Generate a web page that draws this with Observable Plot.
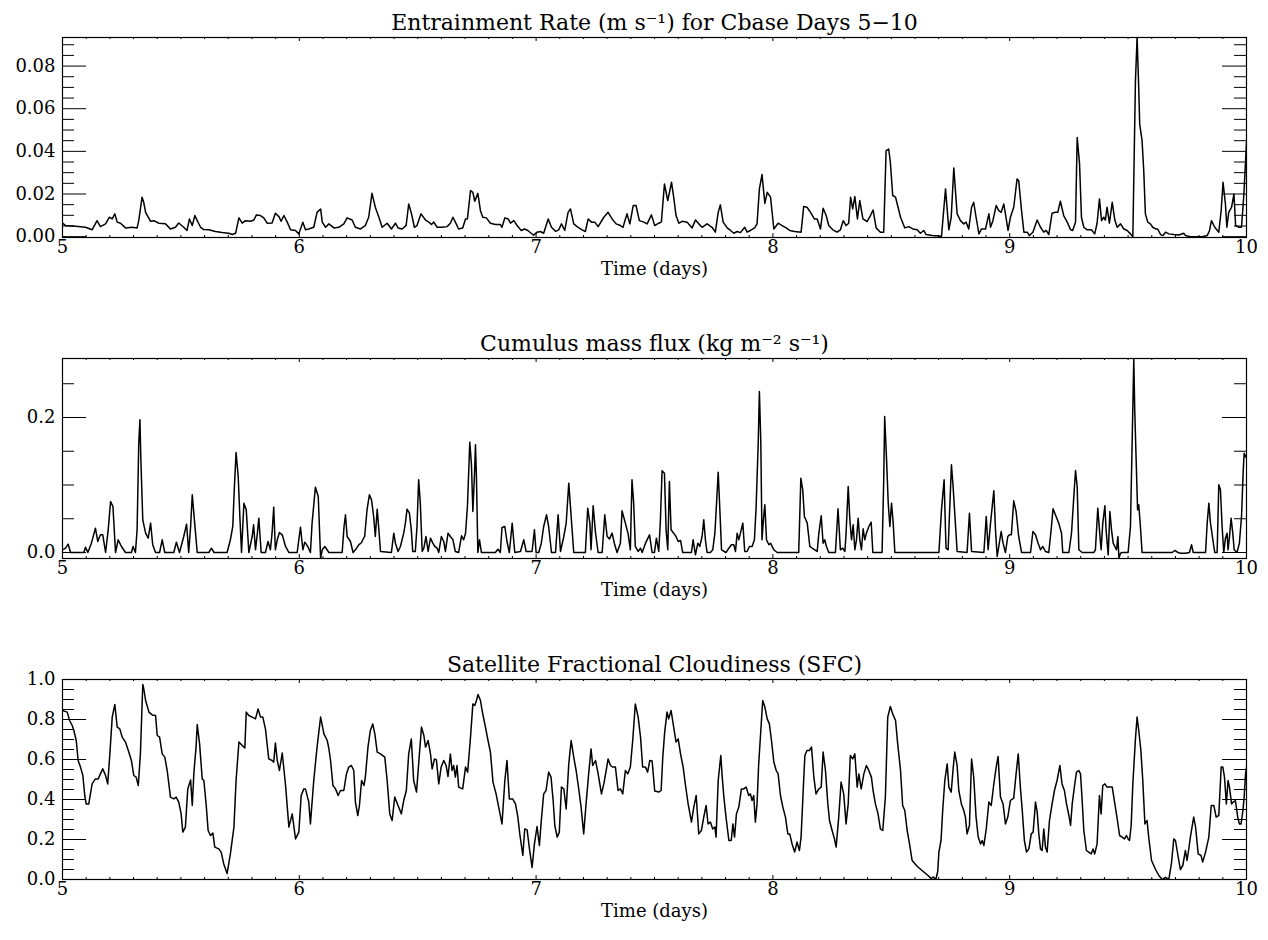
<!DOCTYPE html>
<html>
<head>
<meta charset="utf-8">
<script src="https://cdn.jsdelivr.net/npm/d3@7"></script>
<script src="https://cdn.jsdelivr.net/npm/@observablehq/plot@0.6"></script>
<style>
html, body { margin: 0; padding: 0; background: #fff; }
#chart { width: 1268px; }
#chart svg { display: block; }
</style>
</head>
<body>
<div id="chart"></div>
<script>
// ---- Data: [time (days), value] ----
const entrainment = [[5.000,0.0064],[5.013,0.0052],[5.055,0.0049],[5.097,0.0044],[5.125,0.0032],[5.146,0.0075],[5.160,0.0047],[5.182,0.0060],[5.198,0.0091],[5.210,0.0083],[5.221,0.0107],[5.231,0.0068],[5.245,0.0063],[5.266,0.0041],[5.294,0.0044],[5.315,0.0041],[5.322,0.0075],[5.336,0.0185],[5.343,0.0161],[5.351,0.0114],[5.372,0.0072],[5.386,0.0075],[5.407,0.0063],[5.435,0.0060],[5.456,0.0036],[5.477,0.0044],[5.491,0.0064],[5.512,0.0044],[5.526,0.0029],[5.536,0.0083],[5.548,0.0052],[5.559,0.0099],[5.569,0.0075],[5.583,0.0044],[5.597,0.0033],[5.618,0.0032],[5.646,0.0024],[5.674,0.0019],[5.702,0.0016],[5.717,0.0010],[5.731,0.0016],[5.745,0.0088],[5.759,0.0063],[5.773,0.0075],[5.794,0.0072],[5.808,0.0078],[5.819,0.0102],[5.836,0.0099],[5.850,0.0088],[5.864,0.0063],[5.885,0.0064],[5.899,0.0110],[5.914,0.0094],[5.923,0.0072],[5.935,0.0099],[5.949,0.0068],[5.963,0.0032],[5.984,0.0029],[5.998,0.0013],[6.015,0.0068],[6.026,0.0032],[6.040,0.0036],[6.061,0.0044],[6.075,0.0114],[6.090,0.0130],[6.097,0.0068],[6.111,0.0044],[6.125,0.0060],[6.146,0.0041],[6.167,0.0044],[6.188,0.0060],[6.202,0.0088],[6.223,0.0078],[6.237,0.0044],[6.258,0.0036],[6.279,0.0052],[6.293,0.0091],[6.307,0.0203],[6.321,0.0138],[6.336,0.0091],[6.350,0.0044],[6.371,0.0063],[6.389,0.0036],[6.406,0.0063],[6.417,0.0041],[6.434,0.0036],[6.451,0.0052],[6.462,0.0153],[6.474,0.0107],[6.486,0.0044],[6.497,0.0052],[6.514,0.0107],[6.533,0.0078],[6.547,0.0068],[6.558,0.0057],[6.568,0.0068],[6.582,0.0044],[6.603,0.0044],[6.624,0.0047],[6.638,0.0063],[6.649,0.0091],[6.659,0.0068],[6.673,0.0036],[6.690,0.0041],[6.702,0.0083],[6.710,0.0083],[6.723,0.0216],[6.733,0.0208],[6.741,0.0166],[6.754,0.0203],[6.765,0.0122],[6.775,0.0091],[6.790,0.0088],[6.807,0.0063],[6.828,0.0057],[6.849,0.0057],[6.856,0.0044],[6.868,0.0088],[6.882,0.0083],[6.892,0.0063],[6.906,0.0075],[6.920,0.0052],[6.937,0.0029],[6.951,0.0036],[6.965,0.0029],[6.979,0.0016],[6.990,0.0007],[7.004,0.0021],[7.018,0.0024],[7.032,0.0016],[7.051,0.0083],[7.065,0.0044],[7.082,0.0025],[7.096,0.0032],[7.107,0.0060],[7.121,0.0029],[7.135,0.0114],[7.145,0.0130],[7.159,0.0060],[7.173,0.0047],[7.194,0.0032],[7.208,0.0024],[7.220,0.0083],[7.234,0.0068],[7.248,0.0068],[7.262,0.0047],[7.286,0.0091],[7.304,0.0114],[7.321,0.0083],[7.338,0.0060],[7.356,0.0052],[7.367,0.0044],[7.384,0.0107],[7.396,0.0060],[7.410,0.0146],[7.422,0.0146],[7.436,0.0075],[7.455,0.0068],[7.469,0.0060],[7.487,0.0102],[7.501,0.0052],[7.518,0.0063],[7.529,0.0068],[7.542,0.0247],[7.556,0.0169],[7.572,0.0255],[7.581,0.0185],[7.591,0.0099],[7.603,0.0063],[7.617,0.0072],[7.638,0.0068],[7.659,0.0041],[7.673,0.0078],[7.687,0.0060],[7.701,0.0044],[7.722,0.0060],[7.743,0.0044],[7.757,0.0021],[7.769,0.0114],[7.778,0.0149],[7.790,0.0068],[7.807,0.0041],[7.821,0.0029],[7.835,0.0016],[7.849,0.0024],[7.863,0.0019],[7.881,0.0044],[7.891,0.0021],[7.905,0.0029],[7.923,0.0041],[7.933,0.0060],[7.943,0.0224],[7.954,0.0291],[7.966,0.0156],[7.976,0.0208],[7.990,0.0185],[8.004,0.0036],[8.022,0.0063],[8.039,0.0052],[8.056,0.0041],[8.071,0.0029],[8.092,0.0024],[8.119,0.0021],[8.130,0.0141],[8.144,0.0138],[8.159,0.0114],[8.175,0.0083],[8.187,0.0083],[8.201,0.0036],[8.212,0.0133],[8.225,0.0099],[8.236,0.0052],[8.253,0.0032],[8.271,0.0021],[8.285,0.0032],[8.297,0.0075],[8.309,0.0052],[8.320,0.0063],[8.328,0.0185],[8.337,0.0130],[8.346,0.0188],[8.357,0.0083],[8.367,0.0169],[8.380,0.0083],[8.398,0.0071],[8.412,0.0099],[8.423,0.0125],[8.436,0.0041],[8.454,0.0021],[8.468,0.0021],[8.478,0.0403],[8.489,0.0411],[8.496,0.0349],[8.506,0.0193],[8.518,0.0185],[8.539,0.0091],[8.557,0.0041],[8.574,0.0047],[8.591,0.0036],[8.609,0.0032],[8.623,0.0016],[8.637,0.0029],[8.647,0.0010],[8.673,0.0005],[8.712,0.0002],[8.729,0.0224],[8.743,0.0032],[8.753,0.0091],[8.764,0.0322],[8.778,0.0107],[8.792,0.0075],[8.806,0.0060],[8.816,0.0068],[8.827,0.0036],[8.839,0.0138],[8.848,0.0161],[8.858,0.0091],[8.870,0.0013],[8.881,0.0036],[8.898,0.0036],[8.912,0.0107],[8.919,0.0044],[8.929,0.0075],[8.943,0.0146],[8.954,0.0122],[8.964,0.0114],[8.975,0.0153],[8.982,0.0107],[8.993,0.0029],[9.003,0.0091],[9.017,0.0138],[9.031,0.0270],[9.038,0.0263],[9.050,0.0122],[9.060,0.0021],[9.074,0.0021],[9.083,0.0005],[9.098,0.0021],[9.116,0.0078],[9.130,0.0044],[9.144,0.0021],[9.154,0.0029],[9.165,0.0010],[9.179,0.0110],[9.193,0.0114],[9.203,0.0114],[9.214,0.0166],[9.228,0.0099],[9.243,0.0068],[9.257,0.0032],[9.266,0.0029],[9.278,0.0068],[9.285,0.0465],[9.295,0.0341],[9.303,0.0091],[9.313,0.0044],[9.327,0.0032],[9.345,0.0032],[9.359,0.0013],[9.369,0.0063],[9.379,0.0177],[9.388,0.0075],[9.397,0.0091],[9.404,0.0078],[9.411,0.0138],[9.421,0.0063],[9.433,0.0161],[9.444,0.0078],[9.454,0.0044],[9.468,0.0060],[9.482,0.0036],[9.496,0.0029],[9.510,0.0013],[9.520,0.0000],[9.531,0.0730],[9.538,0.0934],[9.544,0.0730],[9.549,0.0528],[9.559,0.0450],[9.566,0.0310],[9.573,0.0107],[9.583,0.0068],[9.594,0.0060],[9.604,0.0044],[9.616,0.0036],[9.625,0.0036],[9.637,0.0010],[9.647,0.0005],[9.658,0.0021],[9.672,0.0013],[9.693,0.0010],[9.714,0.0008],[9.735,0.0016],[9.742,0.0005],[9.763,0.0000],[9.784,0.0000],[9.813,0.0000],[9.834,0.0005],[9.844,0.0029],[9.852,0.0075],[9.866,0.0044],[9.883,0.0021],[9.893,0.0122],[9.901,0.0255],[9.911,0.0153],[9.917,0.0044],[9.925,0.0114],[9.937,0.0138],[9.947,0.0200],[9.954,0.0052],[9.968,0.0044],[9.979,0.0044],[9.989,0.0200],[10.000,0.0442]];

const massFlux = [[5.000,0.0040],[5.013,0.0064],[5.024,0.0123],[5.034,0],[5.090,0],[5.097,0.0079],[5.107,0],[5.122,0.0138],[5.139,0.0360],[5.149,0.0163],[5.160,0.0262],[5.170,0.0262],[5.182,0],[5.193,0.0336],[5.203,0.0756],[5.213,0.0681],[5.224,0],[5.235,0.0188],[5.249,0.0089],[5.266,0],[5.291,0],[5.298,0.0089],[5.308,0],[5.315,0.0336],[5.322,0.1620],[5.327,0.1965],[5.331,0.1370],[5.339,0.0484],[5.351,0.0286],[5.362,0.0212],[5.372,0.0435],[5.381,0.0114],[5.393,0],[5.410,0],[5.421,0.0188],[5.432,0],[5.470,0],[5.481,0.0153],[5.494,0],[5.512,0.0237],[5.524,0.0420],[5.533,0],[5.541,0.0385],[5.548,0.0854],[5.557,0.0484],[5.569,0],[5.618,0],[5.629,0.0064],[5.640,0],[5.695,0],[5.709,0.0188],[5.719,0.0385],[5.726,0.0978],[5.733,0.1480],[5.742,0.1126],[5.749,0.0533],[5.756,0],[5.766,0.0731],[5.776,0.0632],[5.787,0],[5.801,0.0237],[5.807,0.0410],[5.815,0.0040],[5.823,0.0286],[5.829,0.0509],[5.839,0],[5.857,0],[5.868,0.0163],[5.878,0.0040],[5.885,0.0286],[5.892,0.0672],[5.899,0.0040],[5.907,0.0188],[5.916,0.0296],[5.928,0.0262],[5.942,0.0089],[5.956,0],[5.991,0],[6.005,0.0375],[6.015,0.0040],[6.023,0.0153],[6.036,0.0089],[6.047,0],[6.054,0.0435],[6.068,0.0968],[6.080,0.0830],[6.090,-0.0084],[6.097,0.0040],[6.108,0.0089],[6.125,0],[6.181,0],[6.189,0.0385],[6.195,0.0558],[6.202,0.0237],[6.216,0.0163],[6.227,0],[6.242,0.0064],[6.251,0.0114],[6.263,0.0148],[6.268,0.0188],[6.276,0.0237],[6.286,0.0632],[6.296,0.0854],[6.305,0.0780],[6.314,0.0533],[6.321,0.0237],[6.329,0.0642],[6.336,0.0336],[6.343,0.0015],[6.389,0],[6.399,0.0286],[6.406,0.0138],[6.417,0.0015],[6.427,0.0089],[6.441,0.0286],[6.448,0.0435],[6.455,0.0642],[6.465,0.0583],[6.473,0.0336],[6.479,0.0015],[6.490,0.0015],[6.497,0.0385],[6.504,0.1077],[6.511,0.0731],[6.519,0.0015],[6.526,0.0064],[6.535,0.0237],[6.544,0.0015],[6.554,0.0212],[6.564,0.0138],[6.572,0.0089],[6.582,0.0064],[6.589,0],[6.600,0.0237],[6.610,0.0163],[6.617,0.0015],[6.628,0.0286],[6.638,0.0237],[6.648,0.0198],[6.659,0.0015],[6.673,0],[6.685,0.0247],[6.694,0.0188],[6.702,0.0286],[6.710,0.0681],[6.720,0.1635],[6.727,0.1299],[6.733,0.0607],[6.740,0.1175],[6.744,0.1595],[6.748,0.1126],[6.754,0],[6.761,0.0188],[6.769,0],[6.828,0],[6.839,0.0049],[6.849,0],[6.856,0.0370],[6.868,0.0385],[6.877,0.0163],[6.887,0],[6.899,0.0435],[6.910,0],[6.934,0.0015],[6.948,0.0188],[6.958,0.0015],[6.983,0.0015],[6.993,0.0336],[7.000,0],[7.011,0],[7.022,0.0138],[7.032,0.0385],[7.044,0.0558],[7.053,0.0385],[7.065,0],[7.082,0],[7.093,0.0558],[7.103,0.0015],[7.117,0.0237],[7.127,0.0435],[7.138,0.1027],[7.148,0.0533],[7.159,0],[7.208,0],[7.218,0.0657],[7.227,0.0435],[7.232,0.0040],[7.241,0.0691],[7.251,0.0286],[7.262,0],[7.279,0],[7.290,0.0558],[7.300,0.0237],[7.310,0.0202],[7.321,0.0286],[7.332,0.0114],[7.342,0],[7.356,0.0138],[7.363,0.0617],[7.377,0.0435],[7.388,0.0286],[7.398,0.0040],[7.405,0.1077],[7.412,0.0731],[7.419,0.0089],[7.431,0.0015],[7.441,0.0064],[7.448,0],[7.462,0.0138],[7.479,0.0262],[7.490,0],[7.500,0],[7.508,0.0212],[7.518,0.0015],[7.525,0.0484],[7.532,0.1210],[7.542,0.1175],[7.549,0.0336],[7.556,0.0040],[7.563,0.1052],[7.570,0.0336],[7.581,0.0286],[7.591,0.0237],[7.600,0.0163],[7.610,0.0178],[7.619,0],[7.656,0],[7.663,0.0188],[7.673,-0.0035],[7.683,0.0138],[7.691,0.0089],[7.701,0.0237],[7.708,0.0484],[7.715,0.0188],[7.722,0],[7.736,0],[7.746,0.0040],[7.755,0.0286],[7.762,0.0731],[7.769,0.1190],[7.776,0.0632],[7.783,0.0040],[7.802,0],[7.814,0.0064],[7.825,0.0114],[7.835,0.0114],[7.842,0.0015],[7.849,0.0286],[7.856,0.0188],[7.863,0.0286],[7.873,0.0435],[7.881,0.0015],[7.891,0.0015],[7.901,0.0089],[7.912,0.0089],[7.922,0.0188],[7.929,0.0657],[7.938,0.1620],[7.943,0.2385],[7.949,0.1620],[7.954,0.0188],[7.961,0.0533],[7.966,0.0706],[7.973,0.0188],[7.983,0.0114],[7.990,0.0138],[8.004,0.0040],[8.018,0],[8.109,0],[8.118,0.1101],[8.126,0.0928],[8.133,0.0533],[8.145,0.0435],[8.156,0.0089],[8.166,0.0064],[8.177,0.0040],[8.187,0.0015],[8.194,0.0286],[8.204,0.0543],[8.212,0.0138],[8.219,0.0188],[8.226,0.0089],[8.236,0],[8.264,0],[8.275,0.0647],[8.285,0.0040],[8.295,0.0064],[8.304,0.0015],[8.309,0.0286],[8.318,0.0978],[8.325,0.0484],[8.332,0.0188],[8.339,0.0410],[8.346,0.0040],[8.353,0.0188],[8.360,0.0509],[8.367,0.0188],[8.374,0.0040],[8.381,0.0351],[8.388,0.0188],[8.395,0.0286],[8.405,0.0385],[8.415,0.0449],[8.422,0],[8.461,0],[8.468,0.1077],[8.472,0.2015],[8.480,0.1373],[8.487,0.0731],[8.494,0.0385],[8.501,0.0731],[8.508,0.0435],[8.515,0],[8.701,0],[8.712,0.0632],[8.723,0.1077],[8.731,0.0064],[8.740,0.0040],[8.747,0.0681],[8.754,0.1299],[8.761,0.0978],[8.771,0.0410],[8.778,0.0015],[8.820,0],[8.830,0.0583],[8.839,0.0015],[8.891,0],[8.901,0.0533],[8.909,0.0040],[8.919,0.0435],[8.933,0.0914],[8.940,0.0336],[8.947,-0.0059],[8.954,0.0089],[8.964,0.0311],[8.972,0.0138],[8.982,0],[8.992,0.0237],[8.999,0.0262],[9.007,0.0262],[9.017,0.0765],[9.027,0.0607],[9.038,0.0237],[9.050,0],[9.088,0],[9.098,0.0311],[9.109,0.0262],[9.120,0.0138],[9.130,0.0040],[9.140,0.0089],[9.151,0.0015],[9.165,0],[9.175,0.0336],[9.183,0.0647],[9.193,0.0558],[9.207,0.0435],[9.219,0.0286],[9.224,0],[9.250,0],[9.261,0.0286],[9.269,0.0731],[9.278,0.1215],[9.285,0.0978],[9.292,0.0040],[9.306,0],[9.355,0],[9.362,0.0040],[9.372,0.0657],[9.379,0.0336],[9.386,0.0040],[9.393,0.0435],[9.402,0.0691],[9.407,0.0336],[9.416,-0.0035],[9.423,0.0607],[9.430,0.0336],[9.437,0.0138],[9.444,0.0089],[9.451,0.0040],[9.457,0.0237],[9.461,-0.0084],[9.468,-0.0010],[9.475,0],[9.500,0],[9.510,0.0385],[9.517,0.1620],[9.524,0.2874],[9.528,0.2110],[9.534,0.1370],[9.540,0.0632],[9.545,0.0706],[9.552,0.0385],[9.559,0],[9.686,0],[9.697,0.0030],[9.711,0],[9.721,-0.0010],[9.742,-0.0010],[9.759,0],[9.768,0.0114],[9.775,0],[9.827,0],[9.834,0.0435],[9.841,0.0731],[9.848,0.0435],[9.858,0.0188],[9.866,0],[9.876,0],[9.883,0.1002],[9.890,0.0928],[9.897,0.0385],[9.904,0],[9.911,0.0212],[9.918,0.0286],[9.922,0.0040],[9.929,0.0262],[9.935,0.0509],[9.942,0.0286],[9.948,0.0040],[9.960,0],[9.970,0.0138],[9.979,0.0533],[9.986,0.1200],[9.990,0.1470],[10.000,0.1400]];

const cloudiness = [[5.000,0.845],[5.020,0.837],[5.030,0.795],[5.041,0.770],[5.048,0.745],[5.058,0.695],[5.066,0.595],[5.076,0.562],[5.086,0.520],[5.094,0.420],[5.100,0.378],[5.111,0.378],[5.125,0.478],[5.139,0.503],[5.151,0.503],[5.160,0.528],[5.170,0.553],[5.182,0.520],[5.191,0.478],[5.200,0.628],[5.210,0.812],[5.221,0.875],[5.231,0.762],[5.242,0.753],[5.252,0.712],[5.266,0.687],[5.280,0.637],[5.291,0.595],[5.301,0.520],[5.311,0.512],[5.320,0.470],[5.329,0.628],[5.339,0.975],[5.343,0.955],[5.351,0.895],[5.365,0.837],[5.379,0.823],[5.393,0.820],[5.400,0.720],[5.410,0.712],[5.421,0.628],[5.432,0.612],[5.442,0.545],[5.456,0.412],[5.470,0.403],[5.480,0.412],[5.491,0.387],[5.501,0.328],[5.508,0.237],[5.519,0.262],[5.529,0.453],[5.541,0.498],[5.548,0.370],[5.555,0.537],[5.564,0.662],[5.569,0.775],[5.579,0.678],[5.590,0.503],[5.597,0.495],[5.607,0.370],[5.615,0.245],[5.625,0.220],[5.635,0.232],[5.643,0.162],[5.660,0.153],[5.670,0.137],[5.681,0.078],[5.695,0.030],[5.709,0.128],[5.724,0.262],[5.733,0.495],[5.745,0.687],[5.759,0.670],[5.770,0.658],[5.776,0.837],[5.787,0.820],[5.801,0.812],[5.815,0.803],[5.826,0.853],[5.836,0.812],[5.846,0.812],[5.857,0.753],[5.871,0.603],[5.885,0.595],[5.892,0.587],[5.899,0.682],[5.907,0.595],[5.916,0.545],[5.928,0.632],[5.942,0.470],[5.956,0.262],[5.970,0.328],[5.984,0.203],[5.998,0.237],[6.008,0.420],[6.019,0.453],[6.026,0.453],[6.040,0.387],[6.047,0.278],[6.061,0.495],[6.075,0.662],[6.090,0.812],[6.104,0.728],[6.118,0.695],[6.125,0.653],[6.132,0.595],[6.142,0.470],[6.153,0.453],[6.164,0.420],[6.174,0.445],[6.188,0.445],[6.199,0.528],[6.209,0.562],[6.220,0.570],[6.230,0.545],[6.237,0.387],[6.247,0.320],[6.254,0.370],[6.263,0.495],[6.273,0.470],[6.279,0.512],[6.290,0.662],[6.300,0.745],[6.310,0.778],[6.319,0.728],[6.329,0.637],[6.343,0.628],[6.361,0.612],[6.371,0.495],[6.382,0.328],[6.392,0.295],[6.403,0.412],[6.417,0.370],[6.431,0.328],[6.441,0.395],[6.452,0.445],[6.462,0.628],[6.473,0.703],[6.483,0.495],[6.495,0.437],[6.504,0.578],[6.516,0.762],[6.526,0.720],[6.533,0.662],[6.544,0.695],[6.554,0.628],[6.561,0.553],[6.571,0.603],[6.579,0.598],[6.589,0.478],[6.599,0.562],[6.610,0.595],[6.620,0.570],[6.628,0.515],[6.638,0.628],[6.645,0.545],[6.652,0.570],[6.659,0.512],[6.666,0.570],[6.673,0.462],[6.690,0.453],[6.702,0.562],[6.711,0.537],[6.723,0.712],[6.733,0.878],[6.741,0.870],[6.748,0.895],[6.755,0.925],[6.765,0.895],[6.772,0.845],[6.786,0.762],[6.797,0.695],[6.807,0.637],[6.818,0.487],[6.831,0.428],[6.842,0.362],[6.856,0.278],[6.868,0.495],[6.877,0.595],[6.887,0.403],[6.901,0.403],[6.913,0.378],[6.923,0.312],[6.931,0.228],[6.944,0.120],[6.952,0.253],[6.962,0.248],[6.972,0.153],[6.983,0.060],[6.993,0.178],[7.004,0.265],[7.014,0.170],[7.022,0.295],[7.032,0.428],[7.042,0.445],[7.053,0.537],[7.063,0.512],[7.072,0.395],[7.079,0.270],[7.089,0.212],[7.098,0.237],[7.107,0.462],[7.117,0.453],[7.127,0.353],[7.138,0.578],[7.148,0.695],[7.159,0.612],[7.169,0.545],[7.180,0.453],[7.190,0.362],[7.201,0.228],[7.211,0.378],[7.222,0.528],[7.232,0.653],[7.239,0.570],[7.251,0.595],[7.262,0.528],[7.276,0.428],[7.286,0.478],[7.296,0.545],[7.304,0.603],[7.314,0.570],[7.324,0.562],[7.335,0.562],[7.346,0.445],[7.356,0.453],[7.366,0.428],[7.377,0.545],[7.387,0.528],[7.398,0.562],[7.408,0.695],[7.419,0.878],[7.431,0.812],[7.441,0.712],[7.450,0.562],[7.462,0.562],[7.471,0.537],[7.480,0.595],[7.490,0.592],[7.501,0.442],[7.518,0.437],[7.528,0.445],[7.535,0.612],[7.543,0.737],[7.553,0.837],[7.560,0.803],[7.570,0.845],[7.581,0.762],[7.591,0.687],[7.600,0.703],[7.610,0.628],[7.621,0.562],[7.631,0.470],[7.642,0.378],[7.656,0.287],[7.666,0.362],[7.676,0.420],[7.687,0.228],[7.698,0.245],[7.708,0.312],[7.718,0.370],[7.726,0.278],[7.736,0.287],[7.746,0.253],[7.755,0.262],[7.760,0.212],[7.769,0.495],[7.780,0.620],[7.786,0.512],[7.793,0.412],[7.802,0.312],[7.814,0.195],[7.824,0.195],[7.831,0.278],[7.838,0.212],[7.846,0.328],[7.856,0.362],[7.867,0.453],[7.877,0.453],[7.887,0.462],[7.898,0.420],[7.905,0.428],[7.912,0.395],[7.919,0.420],[7.926,0.287],[7.933,0.378],[7.940,0.578],[7.949,0.745],[7.957,0.895],[7.966,0.862],[7.976,0.803],[7.985,0.778],[7.994,0.695],[8.004,0.587],[8.014,0.545],[8.022,0.528],[8.032,0.420],[8.042,0.362],[8.053,0.312],[8.063,0.228],[8.071,0.228],[8.081,0.178],[8.092,0.137],[8.102,0.187],[8.112,0.145],[8.119,0.212],[8.128,0.445],[8.135,0.620],[8.144,0.645],[8.154,0.645],[8.163,0.662],[8.173,0.512],[8.182,0.428],[8.194,0.453],[8.204,0.462],[8.212,0.637],[8.222,0.545],[8.232,0.378],[8.239,0.295],[8.250,0.245],[8.260,0.203],[8.267,0.162],[8.278,0.312],[8.288,0.487],[8.299,0.428],[8.309,0.278],[8.318,0.378],[8.327,0.620],[8.337,0.603],[8.346,0.628],[8.356,0.462],[8.363,0.528],[8.373,0.453],[8.384,0.528],[8.395,0.570],[8.405,0.545],[8.416,0.512],[8.423,0.445],[8.433,0.378],[8.444,0.328],[8.454,0.253],[8.464,0.245],[8.475,0.412],[8.485,0.812],[8.496,0.865],[8.506,0.828],[8.518,0.795],[8.527,0.678],[8.539,0.545],[8.548,0.370],[8.557,0.345],[8.567,0.245],[8.577,0.178],[8.588,0.095],[8.610,0.065],[8.635,0.040],[8.655,0.020],[8.668,0.005],[8.678,0.012],[8.688,0.000],[8.696,0.040],[8.701,0.137],[8.710,0.195],[8.717,0.345],[8.726,0.495],[8.736,0.578],[8.743,0.462],[8.753,0.437],[8.761,0.553],[8.768,0.637],[8.778,0.570],[8.785,0.445],[8.796,0.378],[8.806,0.345],[8.813,0.312],[8.820,0.228],[8.830,0.270],[8.839,0.603],[8.848,0.512],[8.858,0.312],[8.867,0.212],[8.877,0.178],[8.884,0.195],[8.891,0.170],[8.901,0.253],[8.912,0.387],[8.922,0.370],[8.933,0.478],[8.943,0.562],[8.951,0.615],[8.961,0.412],[8.972,0.378],[8.982,0.278],[8.992,0.312],[9.003,0.395],[9.017,0.407],[9.027,0.528],[9.036,0.628],[9.045,0.462],[9.053,0.345],[9.062,0.195],[9.071,0.137],[9.081,0.153],[9.091,0.228],[9.099,0.237],[9.109,0.387],[9.116,0.337],[9.123,0.228],[9.130,0.153],[9.137,0.145],[9.144,0.253],[9.151,0.162],[9.158,0.137],[9.168,0.295],[9.179,0.378],[9.189,0.445],[9.200,0.495],[9.212,0.570],[9.221,0.478],[9.231,0.445],[9.240,0.378],[9.250,0.320],[9.257,0.270],[9.264,0.378],[9.274,0.470],[9.282,0.537],[9.292,0.545],[9.299,0.528],[9.306,0.395],[9.313,0.245],[9.324,0.145],[9.334,0.137],[9.344,0.128],[9.352,0.153],[9.359,0.128],[9.369,0.178],[9.379,0.420],[9.386,0.328],[9.393,0.470],[9.402,0.478],[9.411,0.462],[9.421,0.462],[9.433,0.462],[9.444,0.378],[9.454,0.303],[9.464,0.220],[9.475,0.212],[9.485,0.203],[9.493,0.220],[9.500,0.203],[9.506,0.195],[9.513,0.270],[9.520,0.478],[9.531,0.703],[9.538,0.812],[9.545,0.745],[9.554,0.645],[9.562,0.495],[9.571,0.278],[9.580,0.295],[9.587,0.212],[9.599,0.095],[9.616,0.050],[9.630,0.020],[9.644,0.000],[9.658,0.010],[9.672,0.000],[9.683,0.080],[9.693,0.203],[9.700,0.195],[9.707,0.145],[9.714,0.095],[9.721,0.050],[9.731,0.070],[9.742,0.145],[9.749,0.095],[9.756,0.150],[9.763,0.212],[9.777,0.312],[9.785,0.262],[9.796,0.128],[9.808,0.120],[9.815,0.087],[9.827,0.137],[9.841,0.212],[9.851,0.370],[9.862,0.370],[9.872,0.312],[9.883,0.320],[9.893,0.562],[9.900,0.562],[9.907,0.512],[9.915,0.378],[9.922,0.495],[9.928,0.462],[9.937,0.378],[9.944,0.387],[9.953,0.395],[9.963,0.312],[9.970,0.278],[9.977,0.278],[9.985,0.345],[9.990,0.412],[9.996,0.528],[10.000,0.560]];

// ---- Text and ticks ----
const titles = [
  "Entrainment Rate (m s\u207B\u00B9) for Cbase Days 5\u221210",
  "Cumulus mass flux (kg m\u207B\u00B2 s\u207B\u00B9)",
  "Satellite Fractional Cloudiness (SFC)"
];
const xLabel = "Time (days)";
const xDomain = [5, 10];
const xMajor = [5, 6, 7, 8, 9, 10];
const entrainDomain = [-0.0004, 0.0934];
const entrainTicks = [0, 0.02, 0.04, 0.06, 0.08];
const fluxDomain = [-0.0089, 0.2874];
const fluxTicks = [0, 0.2];
const sfcDomain = [0, 1];
const sfcTicks = [0, 0.2, 0.4, 0.6, 0.8, 1.0];

// ---- Layout ----
const W = 1268, ML = 62, MR = 22, MT = 37, PH = 200;
const PW = W - ML - MR;
const FONT = "'DejaVu Serif', serif";

function panel({data, title, yDomain, yMajor, yMinorStep, yFormat, height}) {
  const near = (a, b) => Math.abs(a - b) < 1e-9;
  const yMinor = d3.range(Math.ceil(yDomain[0] / yMinorStep - 1e-9), Math.floor(yDomain[1] / yMinorStep + 1e-9) + 1)
    .map(i => +(i * yMinorStep).toFixed(6))
    .filter(v => v >= yDomain[0] && v <= yDomain[1] && !yMajor.some(m => near(m, v)));
  const xMinor = d3.range(xDomain[0] * 10, xDomain[1] * 10 + 1).map(i => i / 10)
    .filter(v => !xMajor.some(m => near(m, v)));
  const k = "#000";
  return Plot.plot({
    width: W, height,
    marginLeft: ML, marginRight: MR, marginTop: MT, marginBottom: height - MT - PH,
    x: {domain: xDomain, axis: null},
    y: {domain: yDomain, axis: null},
    style: {fontFamily: FONT, fontSize: "18px", color: "#000", background: "#fff", overflow: "visible"},
    marks: [
      Plot.line(data, {x: d => d[0], y: d => d[1], stroke: k, strokeWidth: 1.5, clip: true}),
      Plot.tickY(yMajor, {y: d => d, insetRight: PW - 24, stroke: k}),
      Plot.tickY(yMajor, {y: d => d, insetLeft: PW - 24, stroke: k}),
      Plot.tickY(yMinor, {y: d => d, insetRight: PW - 12, stroke: k}),
      Plot.tickY(yMinor, {y: d => d, insetLeft: PW - 12, stroke: k}),
      Plot.tickX(xMajor, {x: d => d, insetTop: PH - 4, stroke: k}),
      Plot.tickX(xMajor, {x: d => d, insetBottom: PH - 4, stroke: k}),
      Plot.tickX(xMinor, {x: d => d, insetTop: PH - 2, stroke: k}),
      Plot.tickX(xMinor, {x: d => d, insetBottom: PH - 2, stroke: k}),
      Plot.frame({stroke: k, strokeWidth: 1.2}),
      Plot.text(yMajor, {y: d => d, text: d => yFormat(d), frameAnchor: "left", textAnchor: "end", dx: -7, fontSize: 18}),
      Plot.text(xMajor, {x: d => d, text: d => String(d), frameAnchor: "bottom", dy: 15, fontSize: 18}),
      Plot.text([xLabel], {text: d => d, frameAnchor: "bottom", dy: 37, fontSize: 18}),
      Plot.text([title], {text: d => d, frameAnchor: "top", dy: -23, fontSize: 22})
    ]
  });
}

const chart = document.getElementById("chart");
chart.append(panel({data: entrainment, title: titles[0], yDomain: entrainDomain, yMajor: entrainTicks, yMinorStep: 0.005, yFormat: d3.format(".2f"), height: 321}));
chart.append(panel({data: massFlux, title: titles[1], yDomain: fluxDomain, yMajor: fluxTicks, yMinorStep: 0.05, yFormat: d3.format(".1f"), height: 321}));
chart.append(panel({data: cloudiness, title: titles[2], yDomain: sfcDomain, yMajor: sfcTicks, yMinorStep: 0.05, yFormat: d3.format(".1f"), height: 298}));
</script>
</body>
</html>
